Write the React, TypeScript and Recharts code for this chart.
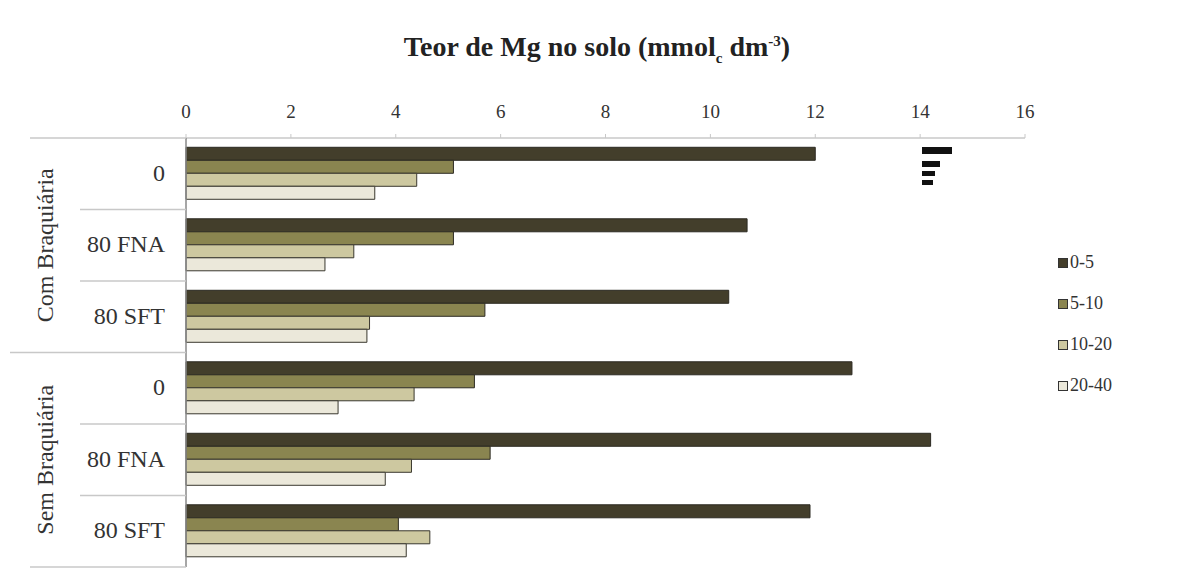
import React from "react";
import { BarChart, Bar, XAxis, YAxis } from "recharts";

const categoryKeys = ["c0", "c1", "c2", "c3", "c4", "c5"];
const categoryLabels = ["0", "80 FNA", "80 SFT", "0", "80 FNA", "80 SFT"];
const groupLabels = ["Com Braquiária", "Sem Braquiária"];
const seriesNames = ["0-5", "5-10", "10-20", "20-40"];
const seriesColors = ["#433e2b", "#8a8550", "#cdc8a0", "#ebe8da"];
const depth0_5 = [12.0, 10.7, 10.35, 12.7, 14.2, 11.9];
const depth5_10 = [5.1, 5.1, 5.7, 5.5, 5.8, 4.05];
const depth10_20 = [4.4, 3.2, 3.5, 4.35, 4.3, 4.65];
const depth20_40 = [3.6, 2.65, 3.45, 2.9, 3.8, 4.2];
const xTicks = [0, 2, 4, 6, 8, 10, 12, 14, 16];

const data = categoryKeys.map((k, i) => ({
  key: k,
  s0: depth0_5[i],
  s1: depth5_10[i],
  s2: depth10_20[i],
  s3: depth20_40[i],
}));

const W = 1178;
const H = 582;
const PLOT_TOP = 138;
const PLOT_BOTTOM = 567;
const AXIS_RIGHT = 186;
const BAND = (PLOT_BOTTOM - PLOT_TOP) / categoryKeys.length;
const FONT = "Liberation Serif";

const CategoryTick = (props: any) => {
  const { y, payload } = props;
  const i = categoryKeys.indexOf(payload.value);
  const top = y - BAND / 2;
  const lineStart = i === 0 ? 30 : i === 3 ? 10 : 80;
  return (
    <g>
      <line x1={lineStart} x2={AXIS_RIGHT} y1={top} y2={top} stroke="#c8c8c8" strokeWidth={1.5} />
      {i === 5 && (
        <line x1={30} x2={AXIS_RIGHT} y1={y + BAND / 2} y2={y + BAND / 2} stroke="#c8c8c8" strokeWidth={1.5} />
      )}
      <text x={AXIS_RIGHT - 21} y={y} dy={7} textAnchor="end" style={{ fontFamily: FONT }} fontSize={24} fill="#333">
        {categoryLabels[i]}
      </text>
      {(i === 1 || i === 4) && (
        <text
          x={46}
          y={y}
          textAnchor="middle"
          style={{ fontFamily: FONT }}
          fontSize={24}
          fill="#333"
          transform={`rotate(-90 46 ${y})`}
          dy={7}
        >
          {groupLabels[i === 1 ? 0 : 1]}
        </text>
      )}
    </g>
  );
};

export default function App() {
  return (
    <div style={{ position: "absolute", left: 0, top: 0, width: W, height: H, background: "#fff", fontFamily: FONT }}>
      <div
        style={{
          position: "absolute",
          left: 0,
          width: 1194,
          top: 31,
          textAlign: "center",
          fontFamily: FONT,
          fontWeight: "bold",
          fontSize: 28,
          color: "#222",
        }}
      >
        Teor de Mg no solo (mmol<sub style={{ fontSize: 15 }}>c</sub> dm<sup style={{ fontSize: 15 }}>-3</sup>)
      </div>
      <svg style={{ position: "absolute", left: 0, top: 0, pointerEvents: "none" }} width={W} height={H}>
        <rect x={922} y={147} width={30} height={7} fill="#111" />
        <rect x={922} y={161} width={18} height={6} fill="#111" />
        <rect x={922} y={171} width={13} height={5} fill="#111" />
        <rect x={922} y={180} width={11} height={5} fill="#111" />
      </svg>
      <div style={{ position: "absolute", left: 1058, top: 242, fontFamily: FONT, fontSize: 18, color: "#333" }}>
        {seriesNames.map((n, i) => (
          <div key={n} style={{ display: "flex", alignItems: "center", height: 41 }}>
            <span
              style={{
                display: "inline-block",
                width: 8,
                height: 8,
                background: seriesColors[i],
                border: "1px solid #333",
                marginRight: 2,
              }}
            />
            <span>{n}</span>
          </div>
        ))}
      </div>
      <div style={{ position: "absolute", left: 0, top: 0 }}>
        <BarChart
          width={W}
          height={H}
          data={data}
          layout="vertical"
          margin={{ top: PLOT_TOP - 40, right: W - 1025, bottom: H - PLOT_BOTTOM, left: 0 }}
          barGap={0}
          barCategoryGap="13%"
        >
          <XAxis
            type="number"
            orientation="top"
            domain={[0, 16]}
            ticks={xTicks}
            height={40}
            axisLine={{ stroke: "#c8c8c8", strokeWidth: 1.5 }}
            tickLine={{ stroke: "#c8c8c8" }}
            tickSize={4}
            tickMargin={16}
            tick={{ fontFamily: FONT, fontSize: 19, fill: "#333" }}
            interval={0}
          />
          <YAxis
            type="category"
            dataKey="key"
            width={AXIS_RIGHT}
            axisLine={{ stroke: "#888", strokeWidth: 1.5 }}
            tickLine={false}
            tick={<CategoryTick />}
            interval={0}
          />
          <Bar dataKey="s0" name={seriesNames[0]} fill={seriesColors[0]} stroke="#2c2a22" strokeWidth={1} isAnimationActive={false} />
          <Bar dataKey="s1" name={seriesNames[1]} fill={seriesColors[1]} stroke="#2c2a22" strokeWidth={1} isAnimationActive={false} />
          <Bar dataKey="s2" name={seriesNames[2]} fill={seriesColors[2]} stroke="#3a382e" strokeWidth={1} isAnimationActive={false} />
          <Bar dataKey="s3" name={seriesNames[3]} fill={seriesColors[3]} stroke="#3a382e" strokeWidth={1} isAnimationActive={false} />
        </BarChart>
      </div>
    </div>
  );
}
